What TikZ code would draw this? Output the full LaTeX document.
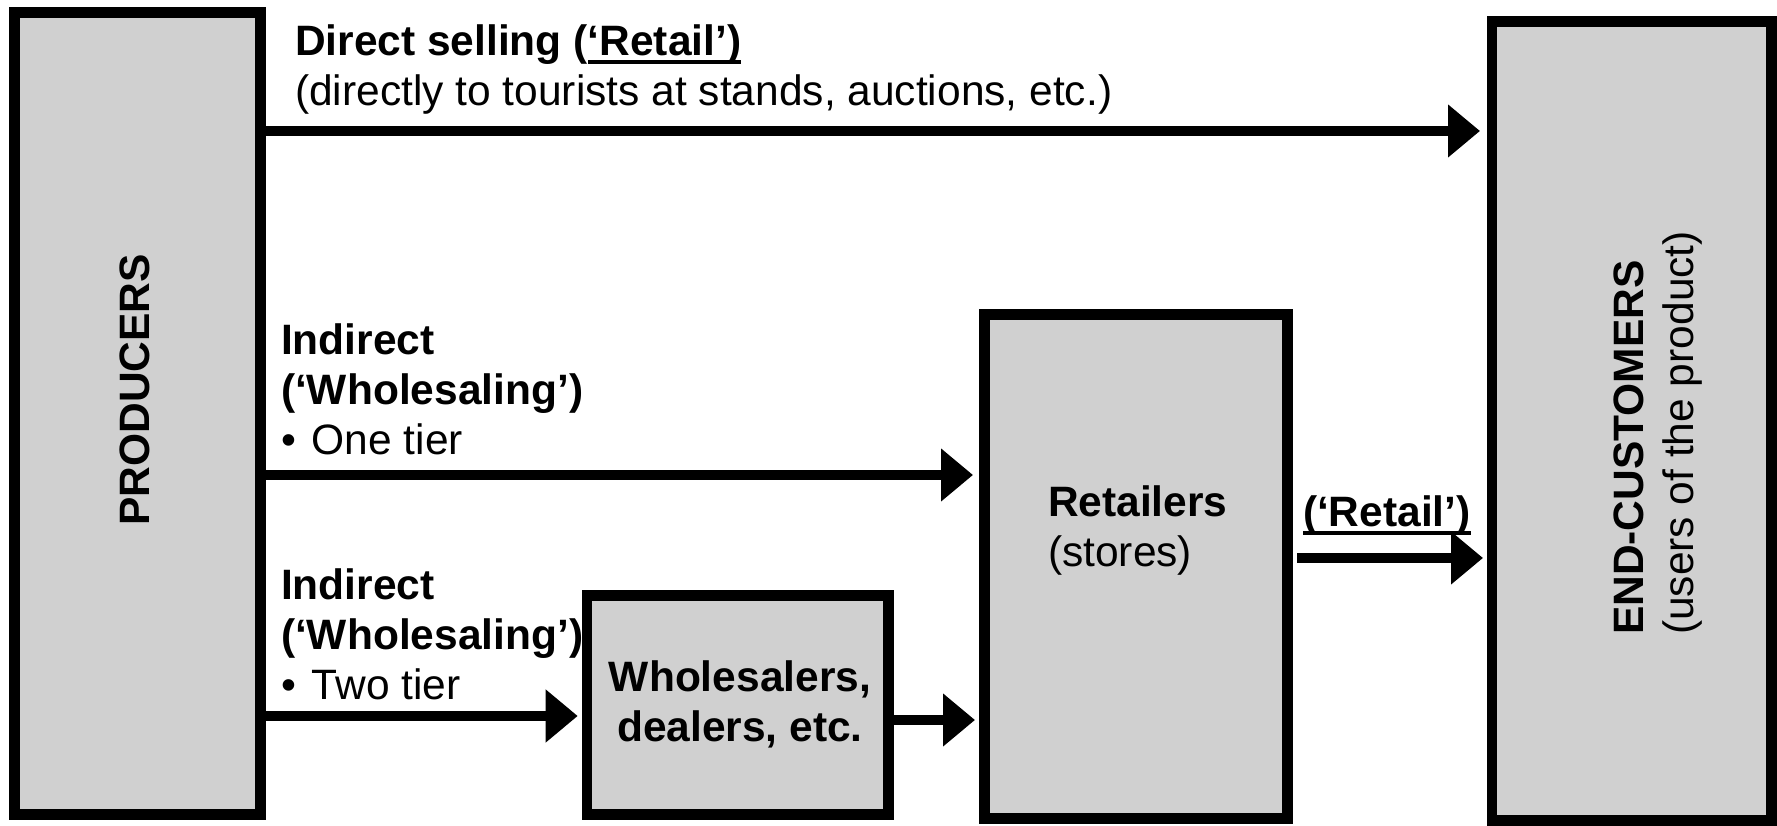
\documentclass[tikz,border=0pt]{standalone}
\usepackage{fontspec}
\setmainfont{Liberation Sans}
\usetikzlibrary{arrows.meta}
\definecolor{boxgray}{RGB}{208,208,208}
\newcommand\myul[1]{\setbox0\hbox{#1}\rlap{\rule[-8pt]{\wd0}{4pt}}\box0}
\tikzset{
  blk/.style={draw=black, line width=10.7pt, fill=boxgray, inner sep=0pt},
  flow/.style={line width=10.5pt, -{Triangle[length=32pt,width=51pt]}},
  lbl/.style={inner sep=0pt, outer sep=0pt, align=left, anchor=base west},
}
\begin{document}
\begin{tikzpicture}[x=1pt,y=1pt,font=\fontsize{42.5}{50}\selectfont]
\useasboundingbox (0,0) rectangle (1777,826);
% boxes
\node[blk, minimum width=246.3pt, minimum height=802.3pt] (prod) at (137.5,412.5) {};
\node[blk, minimum width=301.6pt, minimum height=219.3pt] (whole) at (737.85,121) {};
\node[blk, minimum width=303.3pt, minimum height=504.3pt] (ret) at (1136,259.5) {};
\node[blk, minimum width=279.8pt, minimum height=799.3pt] (endc) at (1631.75,405) {};
% box texts
\node[inner sep=0pt, anchor=base, rotate=90] (prodtxt) at (149.3,436) {\textbf{PRODUCERS}};
\node[lbl, rotate=90] (endtxt) at (1693,191) {\textbf{END-CUSTOMERS}\\(users of the product)};
\node[lbl] (rettxt) at (1048,259) {\textbf{Retailers}\\(stores)};
\node[inner sep=0pt, anchor=base, align=center] (wholetxt) at (740,84) {\textbf{Wholesalers,}\\\textbf{dealers, etc.}};
% arrows
\draw[flow, shorten >=6.5pt] (prod.east |- 0,695) -- (endc.west |- 0,695);
\draw[flow, shorten >=6pt] (prod.east |- 0,351) -- (ret.west |- 0,351);
\draw[flow, shorten >=4pt] (prod.east |- 0,110) -- (whole.west |- 0,110);
\draw[flow, shorten >=4pt] (whole.east |- 0,106) -- (ret.west |- 0,106);
\draw[flow, shorten <=4pt, shorten >=3.5pt] (ret.east |- 0,268) -- (endc.west |- 0,268);
% labels
\node[lbl] (direct) at (295,720) {\textbf{Direct selling (\myul{‘Retail’)}}\\(directly to tourists at stands, auctions, etc.)};
\node[lbl] (ind1) at (281,371) {\textbf{Indirect}\\\textbf{(‘Wholesaling’)}\\•\hspace{16pt}One tier};
\node[lbl] (ind2) at (281,126) {\textbf{Indirect}\\\textbf{(‘Wholesaling’)}\\•\hspace{16pt}Two tier};
\node[lbl] (retail) at (1303,299) {\textbf{\myul{(‘Retail’)}}};
\end{tikzpicture}
\end{document}
